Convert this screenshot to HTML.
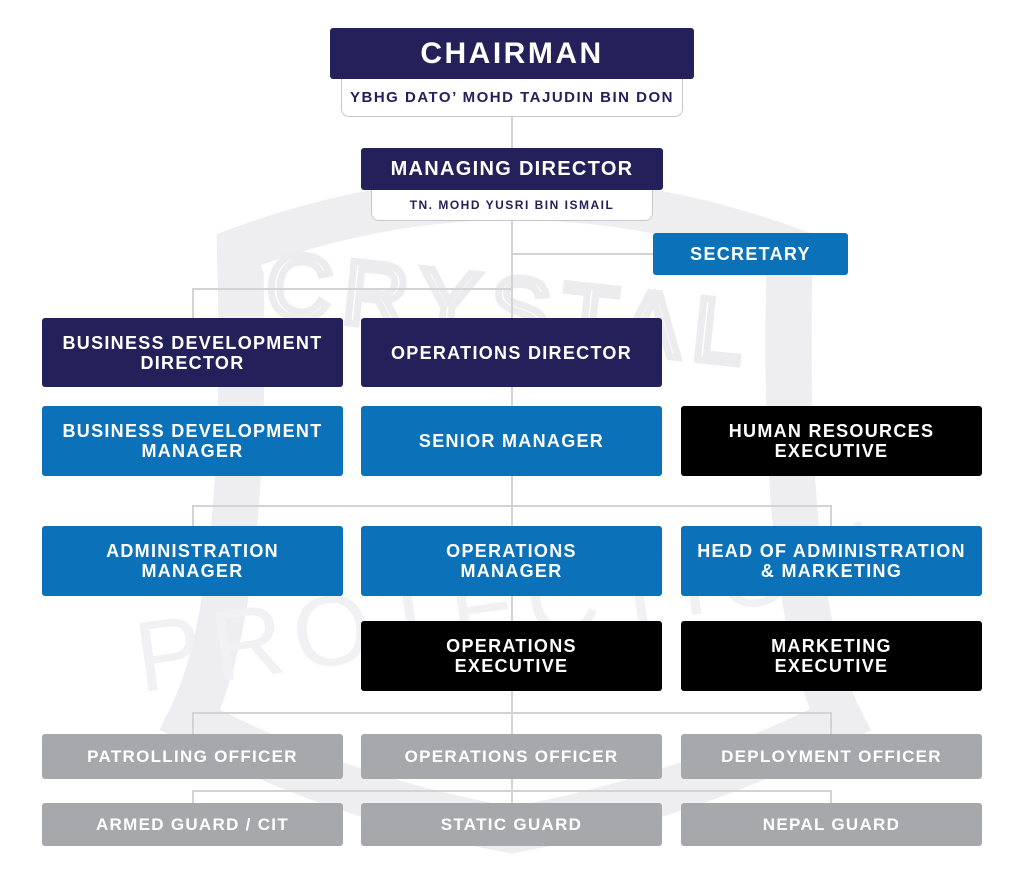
<!DOCTYPE html>
<html><head><meta charset="utf-8"><style>
body{margin:0;background:#fff;}
#c{position:relative;width:1024px;height:892px;overflow:hidden;background:#fff;font-family:"Liberation Sans",sans-serif;}
.b{position:absolute;display:flex;align-items:center;justify-content:center;text-align:center;color:#fff;font-weight:bold;border-radius:3px;letter-spacing:1.3px;line-height:20px;font-size:18px;}
.n{background:#24215a}.u{background:#0b72b9}.k{background:#000}.g{background:#a7a8ab;font-size:17px}
.l{position:absolute;background:#d2d3d5}
.s{position:absolute;background:#fff;border:1.5px solid #c8c8c8;border-top:none;border-radius:0 0 8px 8px;color:#24215a;font-weight:bold;display:flex;align-items:center;justify-content:center;letter-spacing:1.5px;box-sizing:border-box}
</style></head><body><div id="c">
<svg style="position:absolute;left:0;top:0" width="1024" height="892">
<path d="M240 250 Q512 150 790 250 Q780 600 840 720 Q680 800 512 830 Q340 800 190 720 Q250 600 240 250Z" fill="none" stroke="#eeeef1" stroke-width="46"/>
<path d="M262 268 Q512 178 768 268" fill="none" stroke="#fff" stroke-width="6"/>
<text x="512" y="340" text-anchor="middle" font-family="Liberation Sans" font-size="90" fill="none" stroke="#ececef" stroke-width="7" letter-spacing="12" transform="rotate(6 512 300)">CRYSTAL</text>
<text x="512" y="640" text-anchor="middle" font-family="Liberation Sans" font-size="100" fill="#f1f1f3" letter-spacing="10" transform="rotate(-8 512 620)">PROTECTION</text>
</svg>
<div class="l" style="left:511px;top:117px;width:2px;height:617px"></div>
<div class="l" style="left:512px;top:253px;width:141px;height:2px"></div>
<div class="l" style="left:193px;top:288px;width:320px;height:2px"></div>
<div class="l" style="left:192px;top:288px;width:2px;height:30px"></div>
<div class="l" style="left:193px;top:505px;width:639px;height:2px"></div>
<div class="l" style="left:192px;top:505px;width:2px;height:21px"></div>
<div class="l" style="left:830px;top:505px;width:2px;height:21px"></div>
<div class="l" style="left:193px;top:712px;width:639px;height:2px"></div>
<div class="l" style="left:192px;top:712px;width:2px;height:22px"></div>
<div class="l" style="left:830px;top:712px;width:2px;height:22px"></div>
<div class="l" style="left:193px;top:790px;width:639px;height:2px"></div>
<div class="l" style="left:192px;top:790px;width:2px;height:13px"></div>
<div class="l" style="left:511px;top:779px;width:2px;height:24px"></div>
<div class="l" style="left:830px;top:790px;width:2px;height:13px"></div>

<div class="s" style="left:341px;top:79px;width:342px;height:38px;font-size:15px">YBHG DATO’ MOHD TAJUDIN BIN DON</div>
<div class="b n" style="left:330px;top:28px;width:364px;height:51px;font-size:30px;letter-spacing:2.5px">CHAIRMAN</div>
<div class="s" style="left:371px;top:190px;width:282px;height:31px;font-size:12px">TN. MOHD YUSRI BIN ISMAIL</div>
<div class="b n" style="left:361px;top:148px;width:302px;height:42px;font-size:20px">MANAGING DIRECTOR</div>
<div class="b u" style="left:653px;top:233px;width:195px;height:42px">SECRETARY</div>

<div class="b n" style="left:42px;top:318px;width:301px;height:69px">BUSINESS DEVELOPMENT<br>DIRECTOR</div>
<div class="b n" style="left:361px;top:318px;width:301px;height:69px">OPERATIONS DIRECTOR</div>
<div class="b u" style="left:42px;top:406px;width:301px;height:70px">BUSINESS DEVELOPMENT<br>MANAGER</div>
<div class="b u" style="left:361px;top:406px;width:301px;height:70px">SENIOR MANAGER</div>
<div class="b k" style="left:681px;top:406px;width:301px;height:70px">HUMAN RESOURCES<br>EXECUTIVE</div>
<div class="b u" style="left:42px;top:526px;width:301px;height:70px">ADMINISTRATION<br>MANAGER</div>
<div class="b u" style="left:361px;top:526px;width:301px;height:70px">OPERATIONS<br>MANAGER</div>
<div class="b u" style="left:681px;top:526px;width:301px;height:70px">HEAD OF ADMINISTRATION<br>&amp; MARKETING</div>
<div class="b k" style="left:361px;top:621px;width:301px;height:70px">OPERATIONS<br>EXECUTIVE</div>
<div class="b k" style="left:681px;top:621px;width:301px;height:70px">MARKETING<br>EXECUTIVE</div>
<div class="b g" style="left:42px;top:734px;width:301px;height:45px">PATROLLING OFFICER</div>
<div class="b g" style="left:361px;top:734px;width:301px;height:45px">OPERATIONS OFFICER</div>
<div class="b g" style="left:681px;top:734px;width:301px;height:45px">DEPLOYMENT OFFICER</div>
<div class="b g" style="left:42px;top:803px;width:301px;height:43px">ARMED GUARD / CIT</div>
<div class="b g" style="left:361px;top:803px;width:301px;height:43px">STATIC GUARD</div>
<div class="b g" style="left:681px;top:803px;width:301px;height:43px">NEPAL GUARD</div>
</div></body></html>
